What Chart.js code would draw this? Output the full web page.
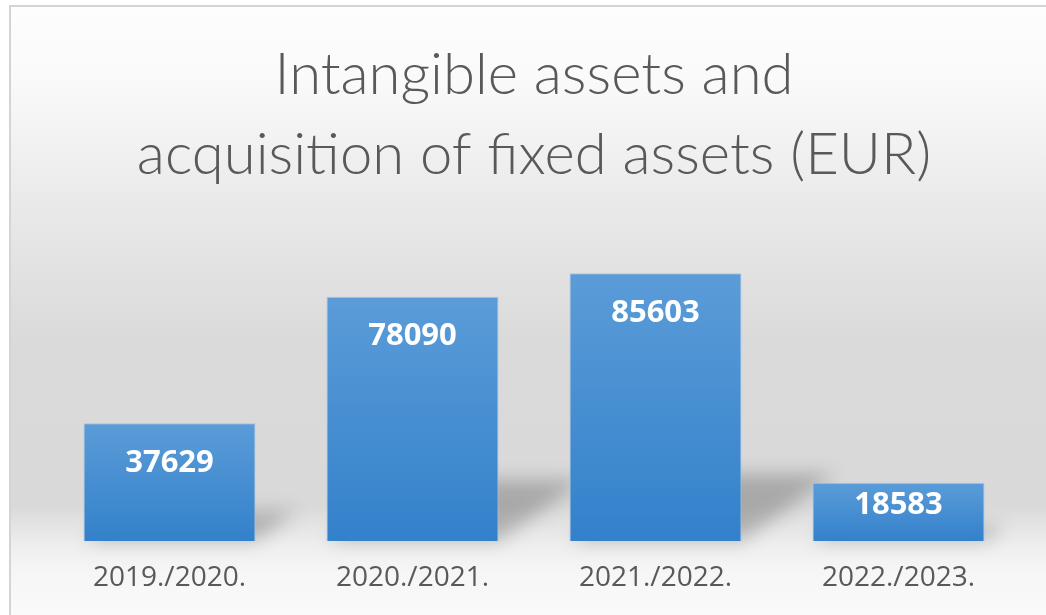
<!DOCTYPE html>
<html>
<head>
<meta charset="utf-8">
<script src="https://cdn.jsdelivr.net/npm/chart.js@4"></script>
<style>
  html, body { margin: 0; padding: 0; background: #fff; }
</style>
</head>
<body>
<canvas id="grafico" width="1046" height="615"></canvas>
<script>
const periodos = ["2019./2020.", "2020./2021.", "2021./2022.", "2022./2023."];
const valores = [37629, 78090, 85603, 18583];
const titulo = ["Intangible assets and", "acquisition of fixed assets (EUR)"];

const cinzaTexto = "#595959";

// fundo em degradê e moldura, como no gráfico do Excel
const fundo = {
  id: "fundo",
  beforeDraw(chart) {
    const ctx = chart.ctx;
    const w = chart.width;
    const h = chart.height;
    ctx.save();
    ctx.fillStyle = "#ffffff";
    ctx.fillRect(0, 0, w, h);
    const g = ctx.createLinearGradient(0, 6, 0, h);
    g.addColorStop(0, "#fdfdfd");
    g.addColorStop(0.12, "#fafafa");
    g.addColorStop(0.33, "#e9e9e9");
    g.addColorStop(0.55, "#dadada");
    g.addColorStop(0.82, "#d9d9d9");
    g.addColorStop(0.885, "#eeeeee");
    g.addColorStop(0.93, "#f6f6f6");
    g.addColorStop(1, "#fafafa");
    ctx.fillStyle = g;
    ctx.fillRect(10, 6, w - 10, h - 6);
    ctx.strokeStyle = "#d4d4d4";
    ctx.lineWidth = 2;
    ctx.beginPath();
    ctx.moveTo(10, h);
    ctx.lineTo(10, 6);
    ctx.lineTo(w, 6);
    ctx.stroke();
    ctx.restore();
  },
};

// sombra em perspectiva atrás de cada barra
const sombra = {
  id: "sombra",
  beforeDatasetsDraw(chart) {
    const ctx = chart.ctx;
    const meta = chart.getDatasetMeta(0);
    ctx.save();
    ctx.filter = "blur(9px)";
    ctx.fillStyle = "rgba(0,0,0,0.22)";
    meta.data.forEach((bar) => {
      const alt = bar.base - bar.y;
      const dx = alt * 0.35;
      const dy = alt * 0.25;
      const esq = bar.x - bar.width / 2;
      const dir = bar.x + bar.width / 2;
      ctx.beginPath();
      ctx.moveTo(esq, bar.base);
      ctx.lineTo(dir, bar.base);
      ctx.lineTo(dir + dx, bar.base - dy);
      ctx.lineTo(esq + dx, bar.base - dy);
      ctx.closePath();
      ctx.fill();
    });
    ctx.restore();
  },
};

// rótulos brancos dentro do topo das barras
const rotulos = {
  id: "rotulos",
  afterDatasetsDraw(chart) {
    const ctx = chart.ctx;
    const meta = chart.getDatasetMeta(0);
    ctx.save();
    ctx.fillStyle = "#ffffff";
    ctx.font = "bold 31px 'Open Sans', sans-serif";
    ctx.textAlign = "center";
    ctx.textBaseline = "middle";
    meta.data.forEach((bar, i) => {
      const alt = bar.base - bar.y;
      const desloc = Math.min(40, alt * 0.39);
      ctx.fillText(String(valores[i]), bar.x, bar.y + desloc);
    });
    ctx.restore();
  },
};

function degradeBarra(context) {
  const chart = context.chart;
  const y = chart.scales.y;
  if (!y) return "#4a8fd2";
  const topo = y.getPixelForValue(valores[context.dataIndex]);
  const base = y.getPixelForValue(0);
  if (!isFinite(topo) || !isFinite(base)) return "#4a8fd2";
  const g = chart.ctx.createLinearGradient(0, topo, 0, base);
  g.addColorStop(0, "#5b9cd8");
  g.addColorStop(1, "#3381cb");
  return g;
}

new Chart(document.getElementById("grafico"), {
  type: "bar",
  data: {
    labels: periodos,
    datasets: [
      {
        data: valores,
        backgroundColor: degradeBarra,
        borderColor: "rgba(160,196,232,0.9)",
        borderWidth: 1,
        categoryPercentage: 1,
        barPercentage: 0.708,
      },
    ],
  },
  options: {
    responsive: false,
    animation: false,
    devicePixelRatio: 1,
    layout: {
      padding: { left: 48, right: 26, top: 0, bottom: 0 },
    },
    plugins: {
      legend: { display: false },
      tooltip: { enabled: false },
      title: {
        display: true,
        text: titulo,
        color: cinzaTexto,
        font: { family: "Lato, 'Open Sans', sans-serif", size: 58, weight: 300, lineHeight: 1.38 },
        padding: { top: 35, bottom: 33 },
      },
    },
    scales: {
      x: {
        grid: { display: false, drawTicks: false },
        border: { display: false },
        ticks: {
          color: cinzaTexto,
          padding: 23,
          font: { family: "'Open Sans', sans-serif", size: 28, lineHeight: 1.0 },
        },
      },
      y: {
        display: false,
        min: 0,
        max: 100000,
      },
    },
  },
  plugins: [fundo, sombra, rotulos],
});
</script>
</body>
</html>
